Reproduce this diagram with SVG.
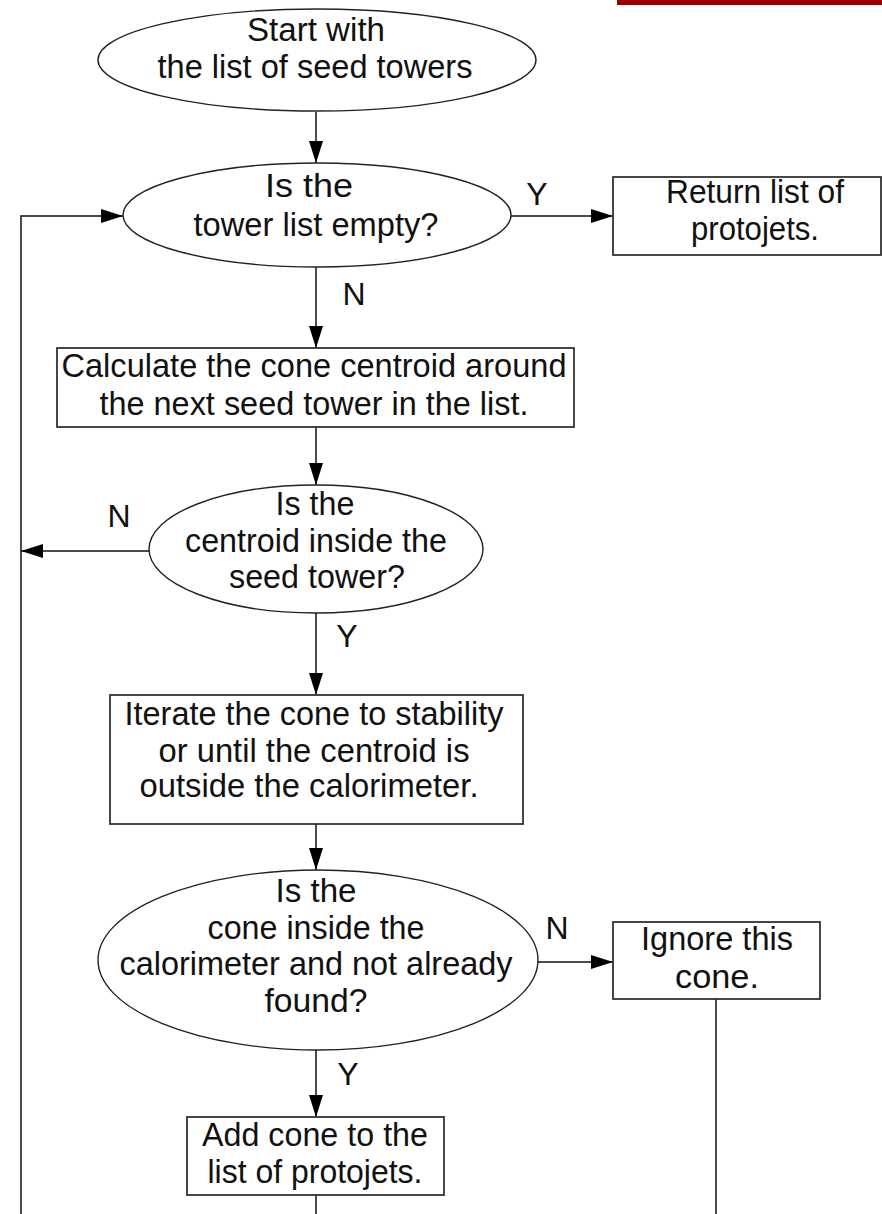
<svg xmlns="http://www.w3.org/2000/svg" width="882" height="1214" viewBox="0 0 882 1214">
<style>
.bg{fill:#ffffff}
.shape{fill:#ffffff;stroke:#222;stroke-width:1.4}
.box{fill:#ffffff;stroke:#333;stroke-width:1.8}
.t{font-family:"Liberation Sans",Arial,sans-serif;font-size:33px;fill:#111;text-anchor:middle}
.lbl{font-family:"Liberation Sans",Arial,sans-serif;font-size:32px;fill:#111;text-anchor:middle}
.c{fill:none;stroke:#111;stroke-width:1.5}
.ca{fill:none;stroke:#111;stroke-width:1.5;marker-end:url(#ah)}
</style>
<defs>
<marker id="ah" markerUnits="userSpaceOnUse" markerWidth="22" markerHeight="14" refX="22" refY="7" orient="auto">
<path d="M0,0 L22,7 L0,14 z" fill="#000"/>
</marker>
</defs>
<rect class="bg" x="0" y="0" width="882" height="1214"/>
<rect x="617" y="0" width="265" height="5" fill="#990000"/>

<g id="connectors">
<line class="ca" x1="316" y1="112" x2="316" y2="163"/>
<line class="ca" x1="511" y1="216" x2="613" y2="216"/>
<path class="ca" d="M21,1214 V216 H123"/>
<line class="ca" x1="316" y1="267" x2="316" y2="348"/>
<line class="ca" x1="316" y1="427" x2="316" y2="485"/>
<line class="ca" x1="149" y1="551" x2="21" y2="551"/>
<line class="ca" x1="316" y1="613" x2="316" y2="695"/>
<line class="ca" x1="316" y1="824" x2="316" y2="870"/>
<line class="ca" x1="537" y1="962" x2="613" y2="962"/>
<line class="ca" x1="316" y1="1049" x2="316" y2="1117"/>
<line class="c" x1="316" y1="1195" x2="316" y2="1214"/>
<line class="c" x1="716" y1="999" x2="716" y2="1214"/>
<text class="lbl" x="537" y="205">Y</text>
<text class="lbl" x="354" y="305">N</text>
<text class="lbl" x="119" y="527">N</text>
<text class="lbl" x="347" y="647">Y</text>
<text class="lbl" x="557" y="939">N</text>
<text class="lbl" x="348" y="1085">Y</text>
</g>

<g id="start">
<ellipse class="shape" cx="317" cy="60" rx="219" ry="51"/>
<text class="t" x="316" y="41" textLength="138" lengthAdjust="spacingAndGlyphs">Start with</text>
<text class="t" x="315" y="78" textLength="315" lengthAdjust="spacingAndGlyphs">the list of seed towers</text>
</g>

<g id="tower-empty">
<ellipse class="shape" cx="317" cy="215" rx="194" ry="52"/>
<text class="t" x="309" y="197" textLength="88" lengthAdjust="spacingAndGlyphs">Is the</text>
<text class="t" x="316" y="236" textLength="245" lengthAdjust="spacingAndGlyphs">tower list empty?</text>
</g>

<g id="return">
<rect class="box" x="613" y="177" width="268" height="78"/>
<text class="t" x="755" y="203" textLength="178" lengthAdjust="spacingAndGlyphs">Return list of</text>
<text class="t" x="755" y="240" textLength="128" lengthAdjust="spacingAndGlyphs">protojets.</text>
</g>

<g id="calculate">
<rect class="box" x="57" y="348" width="517" height="79"/>
<text class="t" x="314" y="377" textLength="505" lengthAdjust="spacingAndGlyphs">Calculate the cone centroid around</text>
<text class="t" x="314" y="415" textLength="429" lengthAdjust="spacingAndGlyphs">the next seed tower in the list.</text>
</g>

<g id="centroid-inside">
<ellipse class="shape" cx="316" cy="549" rx="167" ry="64"/>
<text class="t" x="315" y="515" textLength="79" lengthAdjust="spacingAndGlyphs">Is the</text>
<text class="t" x="316" y="552" textLength="262" lengthAdjust="spacingAndGlyphs">centroid inside the</text>
<text class="t" x="317" y="588" textLength="176" lengthAdjust="spacingAndGlyphs">seed tower?</text>
</g>

<g id="iterate">
<rect class="box" x="110" y="695" width="413" height="129"/>
<text class="t" x="314" y="725" textLength="379" lengthAdjust="spacingAndGlyphs">Iterate the cone to stability</text>
<text class="t" x="314" y="762" textLength="311" lengthAdjust="spacingAndGlyphs">or until the centroid is</text>
<text class="t" x="309" y="797" textLength="339" lengthAdjust="spacingAndGlyphs">outside the calorimeter.</text>
</g>

<g id="cone-inside">
<ellipse class="shape" cx="318" cy="960" rx="220" ry="90"/>
<text class="t" x="316" y="902" textLength="81" lengthAdjust="spacingAndGlyphs">Is the</text>
<text class="t" x="316" y="939" textLength="217" lengthAdjust="spacingAndGlyphs">cone inside the</text>
<text class="t" x="316" y="975" textLength="393" lengthAdjust="spacingAndGlyphs">calorimeter and not already</text>
<text class="t" x="316" y="1012" textLength="103" lengthAdjust="spacingAndGlyphs">found?</text>
</g>

<g id="ignore">
<rect class="box" x="613" y="922" width="207" height="77"/>
<text class="t" x="717" y="950" textLength="152" lengthAdjust="spacingAndGlyphs">Ignore this</text>
<text class="t" x="717" y="988" textLength="84" lengthAdjust="spacingAndGlyphs">cone.</text>
</g>

<g id="add">
<rect class="box" x="187" y="1117" width="257" height="78"/>
<text class="t" x="315" y="1146" textLength="226" lengthAdjust="spacingAndGlyphs">Add cone to the</text>
<text class="t" x="315" y="1183" textLength="215" lengthAdjust="spacingAndGlyphs">list of protojets.</text>
</g>
</svg>
